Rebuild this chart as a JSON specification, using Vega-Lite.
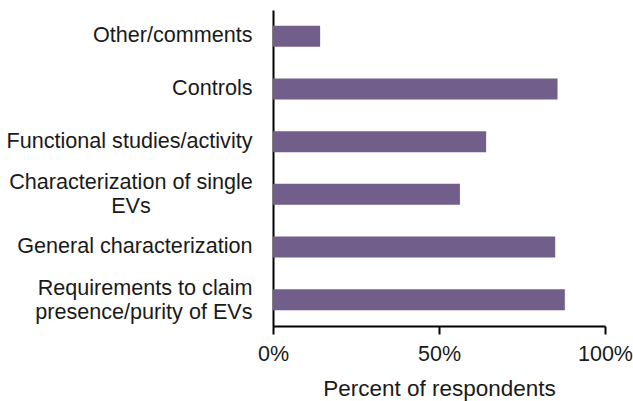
{
  "$schema": "https://vega.github.io/schema/vega-lite/v6.json",
  "width": 332,
  "height": 316,
  "autosize": "none",
  "padding": {"left": 273, "top": 10, "right": 28, "bottom": 75},
  "background": "white",
  "config": {
    "view": {"stroke": null},
    "font": "Liberation Sans",
    "axis": {"grid": false, "domainColor": "#000000", "domainWidth": 2, "tickColor": "#000000", "tickWidth": 2, "labelColor": "#1a1a1a", "titleColor": "#1a1a1a", "labelFont": "Liberation Sans", "titleFont": "Liberation Sans"}
  },
  "data": {
    "values": [
      {"category": "Other/comments", "percent": 0.142},
      {"category": "Controls", "percent": 0.857},
      {"category": "Functional studies/activity", "percent": 0.642},
      {"category": "Characterization of single EVs", "percent": 0.563},
      {"category": "General characterization", "percent": 0.85},
      {"category": "Requirements to claim presence/purity of EVs", "percent": 0.879}
    ]
  },
  "mark": {"type": "bar", "color": "#725e8a"},
  "encoding": {
    "y": {
      "field": "category",
      "type": "nominal",
      "sort": null,
      "scale": {"paddingInner": 0.6, "paddingOuter": 0.3},
      "axis": {
        "title": null,
        "ticks": false,
        "labelFontSize": 21.6,
        "labelLineHeight": 24,
        "labelLimit": 400,
        "labelAlign": {"condition": {"test": "datum.value == 'Characterization of single EVs'", "value": "center"}, "value": "right"},
        "labelPadding": {"condition": {"test": "datum.value == 'Characterization of single EVs'", "value": 142.5}, "value": 21},
        "labelOffset": {"condition": {"test": "datum.value == 'Characterization of single EVs' || datum.value == 'Requirements to claim presence/purity of EVs'", "value": -11}, "value": 0},
        "labelExpr": "datum.value == 'Characterization of single EVs' ? ['Characterization of single', 'EVs'] : datum.value == 'Requirements to claim presence/purity of EVs' ? ['Requirements to claim', 'presence/purity of EVs'] : datum.value"
      }
    },
    "x": {
      "field": "percent",
      "type": "quantitative",
      "scale": {"domain": [0, 1], "nice": false},
      "axis": {
        "title": "Percent of respondents",
        "values": [0, 0.5, 1],
        "format": ".0%",
        "tickSize": 8,
        "labelPadding": 9,
        "labelFontSize": 21.5,
        "titleFontSize": 22.5,
        "titleFontWeight": "normal",
        "titlePadding": 13,
        "labelFlush": false
      }
    }
  }
}
